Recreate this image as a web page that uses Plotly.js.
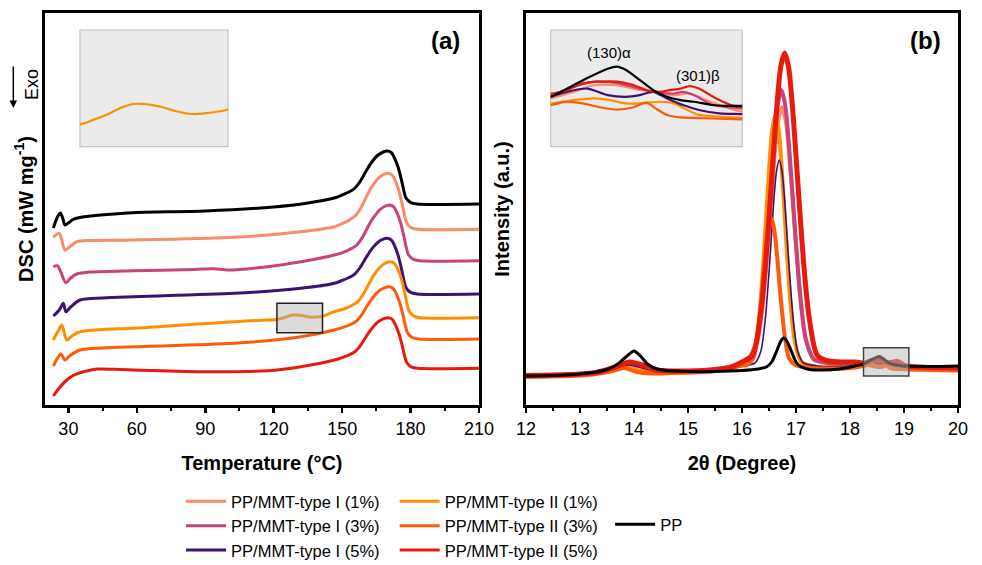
<!DOCTYPE html>
<html>
<head>
<meta charset="utf-8">
<script src="https://cdn.plot.ly/plotly-3.0.1.min.js"></script>
<style>html,body{margin:0;padding:0;background:#fff;}#chart{width:982px;height:565px;}</style>
</head>
<body>
<div id="chart"></div>
<script>
// ---------- series names & colours ----------
const seriesNames = ["PP/MMT-type I (1%)", "PP/MMT-type I (3%)", "PP/MMT-type I (5%)",
                     "PP/MMT-type II (1%)", "PP/MMT-type II (3%)", "PP/MMT-type II (5%)", "PP"];
const seriesColors = ["#F88D6B", "#C9437A", "#3E1273", "#FF8F00", "#FF5A0A", "#E8190E", "#000000"];

// ---------- (a) DSC curves: temperature (°C) and heat flow (a.u., offset) ----------
const dscT_I1 = [23.4, 26, 28.5, 30.5, 33.7, 40, 58.6, 102.6, 131.9, 146.6, 150.3, 153.3, 155.7, 158.3, 160.8, 163, 165.8, 168.3, 170.1, 171.8, 172.6, 174.8, 176.3, 178.3, 180.3, 183.1, 210];
const dsc_I1  = [169.7, 173.7, 157, 160, 165.3, 166.5, 167, 169.7, 175.3, 180.3, 183.7, 187.1, 191, 199.6, 211, 220.1, 228.6, 232.6, 233.7, 232.1, 229.5, 216.8, 203.1, 184, 179.3, 177.7, 177.7];

const dscT_I3 = [23.4, 25.2, 26.5, 28.9, 31, 33.7, 40, 58.6, 85, 93.8, 99.7, 117.3, 131.9, 146.6, 151, 154, 156.4, 159, 161.5, 163.7, 166.5, 169, 170.8, 172.5, 173.3, 175.5, 177, 179, 181, 183.8, 210];
const dsc_I3  = [140.3, 141.3, 136, 124.3, 129, 133, 135, 136.3, 137.5, 138.3, 137, 140.3, 145.3, 152, 155.2, 158.4, 162, 170.1, 181, 189.3, 197.2, 201, 202, 200.4, 197.8, 185.2, 171.5, 152.6, 147.9, 146.3, 146.3];

const dscT_I5 = [23.4, 26, 27.8, 28.9, 31, 35.1, 45, 58.6, 102.6, 131.9, 146.6, 150, 153, 155.4, 158, 160.5, 162.7, 165.5, 168, 169.8, 171.5, 172.3, 174.5, 176, 178, 180, 182.8, 210];
const dsc_I5  = [91, 97, 103.7, 95.3, 100, 107, 109, 110.3, 113.7, 118.7, 123.7, 126.6, 129.5, 132.7, 140, 149.5, 157.2, 164.4, 167.8, 168.7, 167.1, 164.5, 151.9, 138.2, 119.3, 114.6, 113, 113];

const dscT_II1 = [23.4, 25.5, 27.1, 29.3, 31.5, 35.1, 45, 58.6, 80, 102.6, 115, 121.4, 123.2, 125.1, 127, 128.6, 130, 131, 132.3, 134.4, 136.4, 138.5, 141.4, 146.6, 151.4, 154.4, 156.8, 159.4, 161.9, 164.1, 166.9, 169.4, 171.2, 172.9, 173.7, 175.9, 177.4, 179.4, 181.4, 184.2, 210];
const dsc_II1  = [67, 76, 82, 67, 71, 75.3, 77.5, 78.7, 82, 85.3, 86.8, 87.5, 88.5, 89.7, 91.2, 92, 92, 91.8, 91.4, 90.4, 89.8, 90, 90.8, 95.3, 98.5, 101.7, 105.3, 113.4, 124, 132.6, 140.5, 144.3, 145.3, 143.7, 141.1, 128.4, 114.7, 95.6, 90.9, 89.3, 89.3];

const dscT_II3 = [23.4, 25, 26.8, 28.5, 31, 35.1, 45, 58.6, 102.6, 131.9, 146.6, 150.7, 153.7, 156.1, 158.7, 161.2, 163.4, 166.2, 168.7, 170.5, 172.2, 173, 175.2, 176.7, 178.7, 180.7, 183.5, 210];
const dsc_II3  = [41, 48, 53, 47, 52, 57, 59, 60.3, 63.7, 70.3, 77, 79.8, 82.5, 85.6, 92.7, 102, 109.3, 116.1, 119.4, 120.3, 118.8, 116.4, 104.5, 91.7, 73.9, 69.5, 68, 68];

const dscT_II5 = [23.4, 26, 29.3, 32.5, 36.6, 42.5, 50, 58.6, 87.9, 117.3, 131.9, 146.6, 150.3, 153.3, 155.7, 158.3, 160.8, 163, 165.8, 168.3, 170.1, 171.8, 172.6, 174.8, 176.3, 178.3, 180.3, 183.1, 210];
const dsc_II5  = [11, 19, 27, 32, 35.3, 38, 37.7, 37, 35.3, 36.3, 40.3, 47, 49.7, 52.4, 55.5, 62.3, 71.5, 78.5, 85.2, 88.4, 89.3, 87.9, 85.5, 74, 61.6, 44.4, 40.1, 38.7, 38.7];

const dscT_PP = [23.4, 25.2, 26.5, 27.5, 28.5, 30, 32, 35, 40, 50, 60, 90, 120, 135, 146.6, 150, 153, 155.4, 158, 160.5, 162.7, 165.5, 168, 169.8, 171.5, 172.3, 174.5, 176, 178, 180, 182.8, 210];
const dsc_PP  = [179, 190, 194, 189, 182, 184, 187.5, 189.5, 191, 193, 194.5, 196, 200, 204, 209, 212, 215, 218.5, 226, 236, 244, 251.5, 255, 256, 254.5, 252, 240, 227, 209, 204.5, 203, 203];

// ---------- (b) XRD patterns: 2θ (degree) and intensity (a.u.) ----------
const xrdX_I1 = [12, 12.5, 13, 13.3, 13.6, 13.92, 14.15, 14.4, 14.7, 15, 15.5, 15.8, 16.0, 16.14, 16.29, 16.39, 16.49, 16.59, 16.67, 16.74, 16.81, 16.89, 16.99, 17.09, 17.19, 17.34, 17.6, 17.9, 18.1, 18.25, 18.35, 18.44, 18.54, 18.61, 18.70, 18.79, 18.86, 18.93, 19.09, 19.5, 20];
const xrd_I1  = [31, 31.5, 32.5, 34, 38, 43, 40, 36, 35.5, 35.5, 37, 39.5, 43, 47, 66, 105, 169, 242, 286, 300, 286, 242, 169, 105, 66, 47, 43.5, 42.5, 42.5, 42.7, 44.3, 45.9, 45.9, 45.1, 44.3, 43.5, 43.9, 42.3, 39.5, 38.5, 38];

const xrdX_I3 = [12, 12.5, 13, 13.3, 13.6, 13.92, 14.15, 14.4, 14.7, 15, 15.5, 15.8, 16.0, 16.13, 16.28, 16.38, 16.48, 16.58, 16.66, 16.73, 16.80, 16.88, 16.98, 17.08, 17.18, 17.33, 17.6, 17.9, 18.1, 18.25, 18.35, 18.44, 18.54, 18.61, 18.70, 18.79, 18.83, 18.88, 18.96, 19.09, 19.5, 20];
const xrd_I3  = [31, 31.5, 32.5, 34, 38.5, 44, 41, 36.5, 35.5, 35.5, 37, 39.5, 43, 48, 68, 110, 178, 255, 302, 317, 302, 255, 178, 110, 68, 48, 44, 43, 43.5, 43.5, 45.5, 46.8, 46.4, 45.5, 44.3, 43.9, 44.3, 43.5, 41.1, 40.3, 39.5, 39];

const xrdX_I5 = [12, 12.5, 13, 13.3, 13.6, 13.9, 14.15, 14.4, 14.7, 15, 15.5, 15.8, 16.0, 16.24, 16.35, 16.43, 16.51, 16.59, 16.64, 16.69, 16.74, 16.79, 16.87, 16.95, 17.03, 17.14, 17.4, 17.8, 18.1, 18.25, 18.32, 18.41, 18.50, 18.58, 18.64, 18.70, 18.76, 18.83, 18.90, 18.99, 19.09, 19.5, 20];
const xrd_I5  = [31, 31.5, 32.5, 34, 37.5, 42, 39, 36, 35, 35, 36.5, 39, 41, 44, 56, 87, 142, 207, 236, 247, 236, 207, 142, 87, 56, 44, 41, 40.5, 41.5, 43.1, 44.3, 45.1, 43.5, 43.1, 43.5, 44.3, 42.7, 41.1, 39.9, 39.1, 38.9, 38, 37.5];

const xrdX_II1 = [12, 12.5, 13, 13.3, 13.6, 13.85, 14.1, 14.4, 14.7, 15, 15.5, 15.8, 16.0, 16.14, 16.26, 16.34, 16.42, 16.50, 16.56, 16.62, 16.68, 16.74, 16.82, 16.90, 16.98, 17.1, 17.4, 17.8, 18.1, 18.25, 18.35, 18.44, 18.51, 18.58, 18.64, 18.73, 18.79, 18.85, 18.90, 18.99, 19.09, 19.5, 20];
const xrd_II1  = [30.5, 31, 32, 33.5, 36.5, 40, 36.5, 34.5, 34.5, 34.5, 36, 39, 42, 45, 65, 103, 165, 236, 277, 292, 277, 236, 165, 103, 65, 45, 40, 39.5, 40.5, 41.5, 42.3, 42.7, 42.3, 41.5, 41.5, 41.9, 41.5, 39.9, 38.7, 38.3, 38.0, 37.5, 37];

const xrdX_II3 = [12, 12.5, 13, 13.3, 13.6, 13.82, 14.05, 14.3, 14.7, 15, 15.5, 15.8, 16.0, 16.09, 16.21, 16.29, 16.37, 16.44, 16.49, 16.54, 16.59, 16.64, 16.71, 16.79, 16.87, 16.99, 17.3, 17.8, 18.1, 18.25, 18.32, 18.39, 18.47, 18.54, 18.61, 18.67, 18.71, 18.76, 18.82, 18.93, 19.09, 19.5, 20];
const xrd_II3  = [30, 30.5, 31.5, 33, 36, 39, 35, 33.5, 34, 34.5, 36, 39, 41.5, 42, 49, 72, 113, 157, 180, 189, 180, 157, 113, 72, 49, 42, 39, 38.5, 39.5, 41.1, 41.9, 41.5, 40.5, 40.0, 40.5, 41.7, 40.3, 38.7, 38.1, 37.9, 37.6, 37, 36.5];

const xrdX_II5 = [12, 12.5, 13, 13.3, 13.6, 13.92, 14.15, 14.4, 14.7, 15, 15.5, 15.8, 16.0, 16.2, 16.34, 16.44, 16.54, 16.64, 16.72, 16.79, 16.86, 16.94, 17.04, 17.14, 17.24, 17.39, 17.6, 17.9, 18.1, 18.25, 18.32, 18.39, 18.47, 18.54, 18.61, 18.67, 18.73, 18.77, 18.82, 18.86, 18.90, 18.95, 18.99, 19.04, 19.09, 19.5, 20];
const xrd_II5  = [31.5, 32, 33, 34.5, 39, 45, 42, 37, 36, 36, 37.5, 40, 45, 52, 91, 145, 220, 297, 341, 354, 341, 297, 220, 145, 91, 52, 46, 45, 45, 43.9, 44.7, 46.4, 46.8, 46.8, 46.0, 44.7, 44.3, 44.7, 45.1, 45.7, 45.1, 43.5, 42.3, 41.1, 40.5, 39.5, 39];

const xrdX_PP = [12, 12.5, 13, 13.3, 13.5, 13.7, 13.85, 14.0, 14.12, 14.25, 14.4, 14.6, 15, 15.5, 16, 16.3, 16.45, 16.55, 16.65, 16.72, 16.77, 16.84, 16.92, 17.0, 17.1, 17.25, 17.5, 17.8, 18.05, 18.25, 18.28, 18.35, 18.42, 18.50, 18.54, 18.58, 18.64, 18.70, 18.76, 18.82, 18.88, 18.96, 19.02, 19.09, 19.5, 20];
const xrd_PP  = [31, 31.5, 33, 35, 37.5, 43, 50, 56, 51, 43, 38.5, 36.5, 35.5, 35.5, 36.5, 38, 40, 45, 57, 66, 69, 65, 55, 45, 40, 37.5, 37, 38, 40.5, 43.1, 43.9, 45.9, 47.9, 49.9, 50.4, 49.6, 47.2, 44.7, 43.1, 42.3, 41.9, 41.1, 40.9, 40.9, 40.5, 41];

// ---------- assemble ----------
const dscX = [dscT_I1, dscT_I3, dscT_I5, dscT_II1, dscT_II3, dscT_II5, dscT_PP];
const dscY = [dsc_I1, dsc_I3, dsc_I5, dsc_II1, dsc_II3, dsc_II5, dsc_PP];
const xrdX = [xrdX_I1, xrdX_I3, xrdX_I5, xrdX_II1, xrdX_II3, xrdX_II5, xrdX_PP];
const xrdY = [xrd_I1, xrd_I3, xrd_I5, xrd_II1, xrd_II3, xrd_II5, xrd_PP];
const legendOf = ["legend", "legend", "legend", "legend2", "legend2", "legend2", "legend3"];
const xrdWidth = [4, 4, 1.6, 4, 4, 5, 3];
const xrdOrder = [0, 1, 3, 2, 4, 5, 6];

const traces = [];
for (let i = 0; i < 7; i++) {
  traces.push({x: dscX[i], y: dscY[i], type: "scatter", mode: "lines", name: seriesNames[i],
    line: {color: seriesColors[i], width: 3, shape: "spline", smoothing: 0.8},
    xaxis: "x", yaxis: "y", legend: legendOf[i], showlegend: true, hoverinfo: "skip"});
}
// inset (a): zoomed view of the type II (1%) curve
traces.push({x: dscT_II1, y: dsc_II1, type: "scatter", mode: "lines", showlegend: false,
  line: {color: seriesColors[3], width: 2.2, shape: "spline", smoothing: 0.9}, xaxis: "x3", yaxis: "y3", hoverinfo: "skip"});
for (const i of xrdOrder) {
  traces.push({x: xrdX[i], y: xrdY[i], type: "scatter", mode: "lines", showlegend: false,
    line: {color: seriesColors[i], width: xrdWidth[i], shape: "spline", smoothing: 0.7},
    xaxis: "x2", yaxis: "y2", hoverinfo: "skip"});
}
for (const i of xrdOrder) {
  traces.push({x: xrdX[i], y: xrdY[i], type: "scatter", mode: "lines", showlegend: false,
    line: {color: seriesColors[i], width: 2.2, shape: "spline", smoothing: 0.7},
    xaxis: "x4", yaxis: "y4", hoverinfo: "skip"});
}

const FONT = 'Arial, "Liberation Sans", Helvetica, sans-serif';
const frameAxis = {showline: true, linewidth: 3, linecolor: "black", mirror: true, showgrid: false, zeroline: false, automargin: false};
const xTicks = {ticks: "outside", ticklen: 5, tickwidth: 2.5, tickcolor: "black", tickfont: {size: 18, color: "black"}};
const legendBase = {orientation: "v", xanchor: "left", yanchor: "top", bgcolor: "rgba(0,0,0,0)", borderwidth: 0,
  itemwidth: 40, font: {size: 16.5, color: "black", family: FONT}, itemclick: false, itemdoubleclick: false};
const ann = {xref: "paper", yref: "paper", xanchor: "center", yanchor: "middle", showarrow: false};

const layout = {
  width: 982, height: 565,
  margin: {l: 45, r: 24, t: 13, b: 160, autoexpand: false},
  paper_bgcolor: "white", plot_bgcolor: "rgba(0,0,0,0)",
  font: {family: FONT, color: "black"},
  xaxis: Object.assign({}, frameAxis, xTicks, {domain: [0, 0.4754], range: [19.75, 210], anchor: "y",
    tick0: 0, dtick: 30, minor: {ticks: "outside", tick0: 0, dtick: 15, ticklen: 3, tickwidth: 2, tickcolor: "black"},
    title: {text: "Temperature (°C)", font: {size: 20, weight: "bold"}, standoff: 19}}),
  yaxis: Object.assign({}, frameAxis, {domain: [0, 1], range: [2, 394], anchor: "x", showticklabels: false, ticks: "",
    title: {text: "DSC (mW mg<sup>-1</sup>)", font: {size: 20, weight: "bold"}, standoff: 4}}),
  xaxis2: Object.assign({}, frameAxis, xTicks, {domain: [0.5268, 1], range: [12, 20], anchor: "y2",
    tick0: 12, dtick: 1, minor: {ticks: "outside", tick0: 12, dtick: 0.5, ticklen: 3, tickwidth: 2, tickcolor: "black"},
    title: {text: "2θ (Degree)", font: {size: 20, weight: "bold"}, standoff: 19}}),
  yaxis2: Object.assign({}, frameAxis, {domain: [0, 1], range: [2, 394], anchor: "x2", showticklabels: false, ticks: "",
    title: {text: "Intensity (a.u.)", font: {size: 20, weight: "bold"}, standoff: 8}}),
  xaxis3: {domain: [0.0383, 0.2004], range: [121.4, 141.4], anchor: "y3", visible: false},
  yaxis3: {domain: [0.659, 0.9566], range: [82.6, 108.3], anchor: "x3", visible: false},
  xaxis4: {domain: [0.5539, 0.7637], range: [18.25, 19.09], anchor: "y4", visible: false},
  yaxis4: {domain: [0.659, 0.9566], range: [31, 59.3], anchor: "x4", visible: false},
  legend:  Object.assign({}, legendBase, {x: 0.149, y: -0.2015}),
  legend2: Object.assign({}, legendBase, {x: 0.383, y: -0.2015}),
  legend3: Object.assign({}, legendBase, {x: 0.619, y: -0.2602}),
  shapes: [
    {type: "rect", xref: "x3 domain", yref: "y3 domain", x0: 0, x1: 1, y0: 0, y1: 1,
     fillcolor: "#ebebeb", line: {color: "#c4c4c4", width: 1.2}, layer: "below"},
    {type: "rect", xref: "x4 domain", yref: "y4 domain", x0: 0, x1: 1, y0: 0, y1: 1,
     fillcolor: "#ebebeb", line: {color: "#c4c4c4", width: 1.2}, layer: "below"},
    {type: "rect", xref: "x", yref: "y", x0: 121.4, x1: 141.4, y0: 74.3, y1: 103.7,
     fillcolor: "rgba(175,175,175,0.45)", line: {color: "#222", width: 1.5}, layer: "above"},
    {type: "rect", xref: "x2", yref: "y2", x0: 18.25, x1: 19.09, y0: 31, y1: 59.3,
     fillcolor: "rgba(185,185,185,0.5)", line: {color: "#444", width: 1.5}, layer: "above"}
  ],
  annotations: [
    Object.assign({}, ann, {x: 0.4389, y: 0.9311, text: "<b>(a)</b>", font: {size: 24}}),
    Object.assign({}, ann, {x: 0.9644, y: 0.9311, text: "<b>(b)</b>", font: {size: 24}}),
    Object.assign({}, ann, {x: 0.6177, y: 0.9005, text: "(130)α", font: {size: 15}}),
    Object.assign({}, ann, {x: 0.7147, y: 0.8418, text: "(301)β", font: {size: 15}}),
    Object.assign({}, ann, {x: -0.0148, y: 0.8176, text: "Exo", textangle: -90, font: {size: 18}}),
    {xref: "paper", yref: "paper", x: -0.0347, y: 0.7577, text: "", showarrow: true, ax: 0, ay: -43,
     arrowhead: 2, arrowsize: 1, arrowwidth: 1.5, arrowcolor: "black", standoff: 0, startstandoff: 0}
  ]
};

Plotly.newPlot("chart", traces, layout, {staticPlot: true, displayModeBar: false});
</script>
</body>
</html>
